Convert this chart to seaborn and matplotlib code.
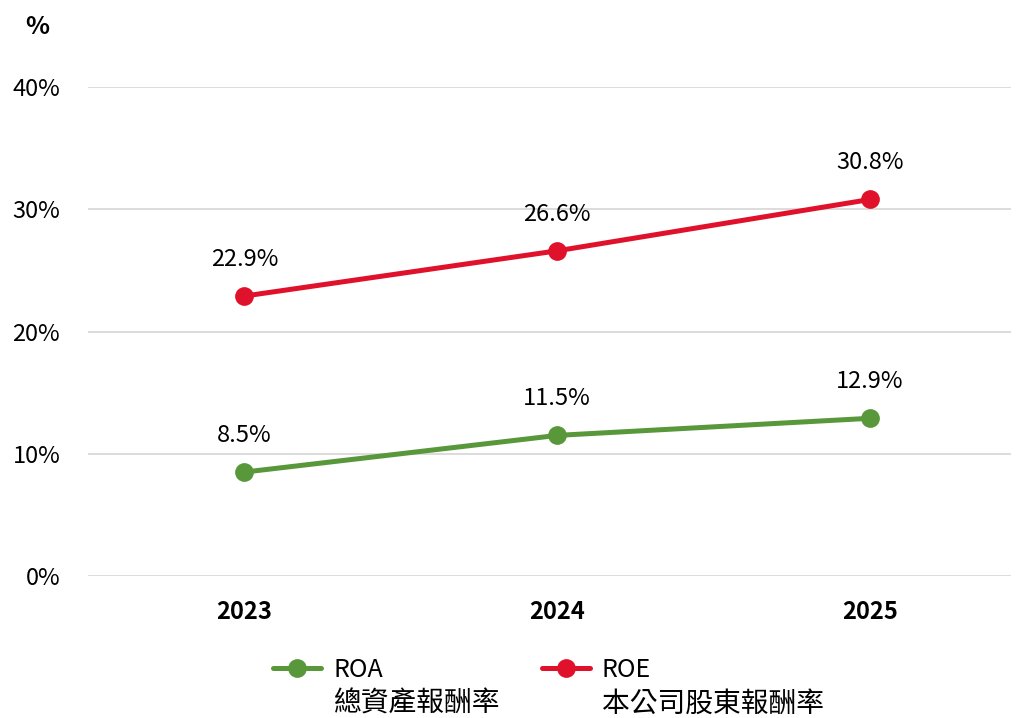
import matplotlib
matplotlib.use("Agg")
import matplotlib.pyplot as plt
import seaborn as sns
import pandas as pd
from matplotlib.lines import Line2D

years = ["2023", "2024", "2025"]
roa = [8.5, 11.5, 12.9]
roe = [22.9, 26.6, 30.8]
series_short = ["ROA", "ROE"]
series_long = ["總資產報酬率", "本公司股東報酬率"]
colors = ["#58973A", "#E0122B"]
yticks = [0, 10, 20, 30, 40]

sns.set_theme(style="white")
plt.rcParams['font.family'] = ['Noto Sans CJK TC', 'DejaVu Sans']
plt.rcParams['text.color'] = 'black'

fig = plt.figure(figsize=(10.24, 7.18), dpi=100)
ax = fig.add_axes([0.0859, 0.1978, 0.9011, 0.681])

xpos = list(range(len(years)))
df = pd.DataFrame({
    "x": xpos * 2,
    "v": roa + roe,
    "s": [series_short[0]] * 3 + [series_short[1]] * 3,
})
sns.lineplot(data=df, x="x", y="v", hue="s", palette=colors, marker="o",
             markersize=13.5, linewidth=3.6, markeredgewidth=0, ax=ax, legend=False)

for vals in (roa, roe):
    for x, v in zip(xpos, vals):
        ax.annotate(f"{v:.1f}%", (x, v), xytext=(0, 18), textcoords="offset points",
                    ha="center", va="bottom", fontsize=17, color="black")

ax.set_xlim(-0.5, 2.45)
ax.set_ylim(0, 40)
ax.set_yticks(yticks)
ax.set_yticklabels([f"{t}%" for t in yticks], fontsize=17, color="black")
ax.set_xticks(xpos)
ax.set_xticklabels(years, fontsize=17, fontweight="bold", color="black")
ax.tick_params(axis="x", length=0, pad=17)
ax.tick_params(axis="y", length=0, pad=20)
ax.grid(axis="y", color="#D9D9D9", linewidth=1.3)
ax.grid(axis="x", visible=False)
for s in ax.spines.values():
    s.set_visible(False)
ax.set_xlabel("")
ax.set_ylabel("")

fig.text(0.036, 0.962, "%", fontsize=18, fontweight="bold", ha="center", va="center")

# legend: one per series, handle aligned with the first line of the label
anchors_x = [273 / 1024, 542 / 1024]
legs = []
for c, short, ax_x in zip(colors, series_short, anchors_x):
    h = Line2D([0], [0], color=c, lw=3.6, marker="o", markersize=13.5, markeredgewidth=0)
    leg = fig.legend([h], [short], loc="center left", bbox_to_anchor=(ax_x, 1 - 670 / 718),
                     frameon=False, fontsize=18, handlelength=1.9, handletextpad=0.5,
                     borderpad=0, borderaxespad=0)
    legs.append(leg)

fig.canvas.draw()
renderer = fig.canvas.get_renderer()
inv = fig.transFigure.inverted()
for leg, long in zip(legs, series_long):
    t = leg.get_texts()[0]
    bb = t.get_window_extent(renderer)
    x0 = inv.transform((bb.x0, 0))[0]
    fig.text(x0, 1 - 704 / 718, long, fontsize=20, ha="left", va="center", color="black")

fig.savefig("out.png", dpi=100)
